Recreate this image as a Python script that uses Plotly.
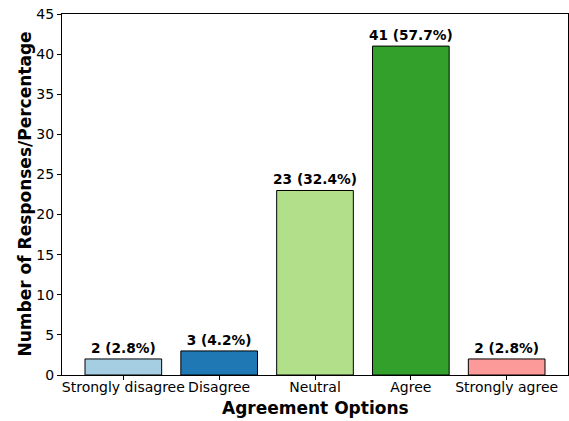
import plotly.graph_objects as go

categories = ["Strongly disagree", "Disagree", "Neutral", "Agree", "Strongly agree"]
counts = [2, 3, 23, 41, 2]
percents = [2.8, 4.2, 32.4, 57.7, 2.8]
colors = ["#a6cee3", "#1f78b4", "#b2df8a", "#33a02c", "#fb9a99"]
labels = [f"{c} ({p}%)" for c, p in zip(counts, percents)]

fig = go.Figure(go.Bar(
    x=list(range(len(categories))), y=counts, width=0.8,
    marker=dict(color=colors, line=dict(color="black", width=1)),
    text=labels, textposition="outside", cliponaxis=False, constraintext="none",
    textfont=dict(family="DejaVu Sans", size=13.7, color="black"),
    texttemplate="<b>%{text}</b>",
))
fig.update_layout(
    width=569, height=421, paper_bgcolor="white", plot_bgcolor="white",
    margin=dict(l=62, r=1, t=14, b=46, autoexpand=False),
    font=dict(family="DejaVu Sans", color="black"),
    showlegend=False,
    xaxis=dict(range=[-0.64, 4.64], tickvals=list(range(5)), ticktext=categories,
               showline=True, linecolor="black", mirror=True, ticks="outside",
               ticklen=4, tickcolor="black", tickfont=dict(size=14), automargin=False,
               ticklabelstandoff=-5, ticklabeloverflow="allow"),
    yaxis=dict(range=[0, 45], dtick=5, showline=True, linecolor="black", mirror=True,
               ticks="outside", ticklen=4, tickcolor="black", showgrid=False,
               zeroline=False, tickfont=dict(size=14), automargin=False,
               ticklabeloverflow="allow"),
    annotations=[
        dict(text="<b>Agreement Options</b>", xref="paper", yref="paper", x=0.5, y=0,
             yshift=-33, xanchor="center", yanchor="middle", showarrow=False,
             font=dict(size=17)),
        dict(text="<b>Number of Responses/Percentage</b>", xref="paper", yref="paper",
             x=0, xshift=-38, y=0.5, textangle=-90, xanchor="center", yanchor="middle",
             showarrow=False, font=dict(size=17)),
    ],
)
fig.write_html("out.html", config={"displayModeBar": False},
               post_script="document.body.style.margin='0';")
